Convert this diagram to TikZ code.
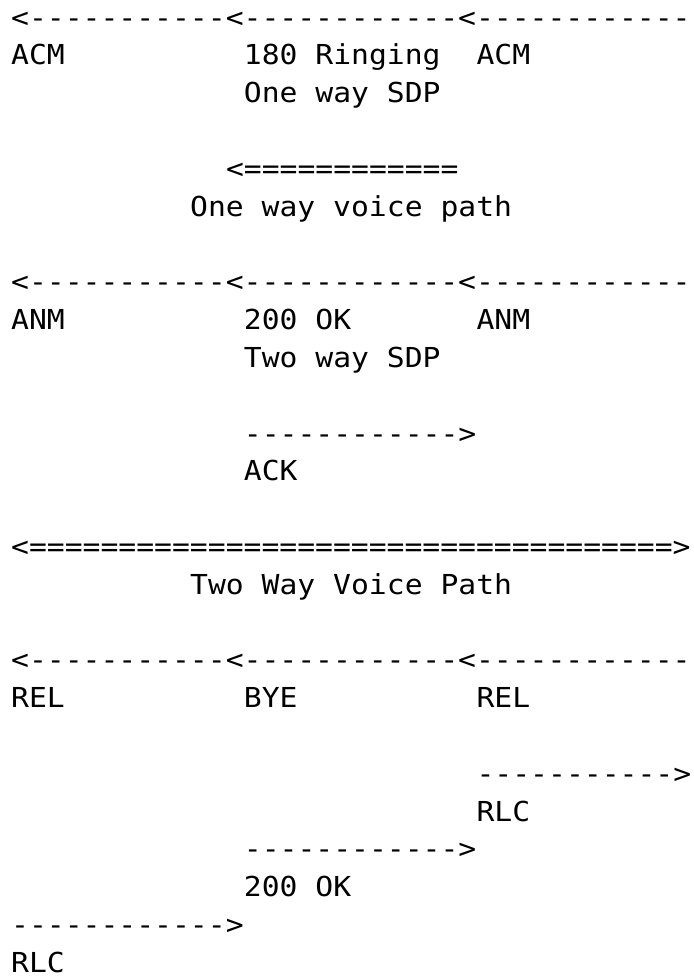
\documentclass[tikz,border=0pt]{standalone}
\usepackage{fontspec}
\newfontfamily\asciifont{DejaVu Sans Mono}[Ligatures=TeXOff,FakeStretch=1.08]
\usetikzlibrary{positioning}

\tikzset{
  ascii/.style={font=\asciifont\fontsize{27.5pt}{33pt}\selectfont,
                anchor=base west,inner sep=0pt,text depth=0pt,text=black}
}

\begin{document}
\begin{tikzpicture}[x=17.9pt,y=-37.8pt]
  \useasboundingbox (-11pt,27.2pt) rectangle (682pt,-948.8pt);
  % ringing
  \node[ascii](acmArrow) at (0,0){<-----------<------------<------------};
  \node[ascii](acmLeft) at (0,1){ACM};
  \node[ascii](ringing) at (13,1){180 Ringing};
  \node[ascii](acmRight) at (26,1){ACM};
  \node[ascii](sdpOne) at (13,2){One way SDP};
  \node[ascii](voiceOneArrow) at (12,4){<============};
  \node[ascii](voiceOne) at (10,5){One way voice path};
  % answer
  \node[ascii](anmArrow) at (0,7){<-----------<------------<------------};
  \node[ascii](anmLeft) at (0,8){ANM};
  \node[ascii](okAnm) at (13,8){200 OK};
  \node[ascii](anmRight) at (26,8){ANM};
  \node[ascii](sdpTwo) at (13,9){Two way SDP};
  \node[ascii](ackArrow) at (13,11){------------>};
  \node[ascii](ack) at (13,12){ACK};
  \node[ascii](voiceTwoArrow) at (0,14){<====================================>};
  \node[ascii](voiceTwo) at (10,15){Two Way Voice Path};
  % release
  \node[ascii](relArrow) at (0,17){<-----------<------------<------------};
  \node[ascii](relLeft) at (0,18){REL};
  \node[ascii](bye) at (13,18){BYE};
  \node[ascii](relRight) at (26,18){REL};
  \node[ascii](rlcRightArrow) at (26,20){----------->};
  \node[ascii](rlcRight) at (26,21){RLC};
  \node[ascii](okByeArrow) at (13,22){------------>};
  \node[ascii](okBye) at (13,23){200 OK};
  \node[ascii](rlcLeftArrow) at (0,24){------------>};
  \node[ascii](rlcLeft) at (0,25){RLC};
\end{tikzpicture}
\end{document}
